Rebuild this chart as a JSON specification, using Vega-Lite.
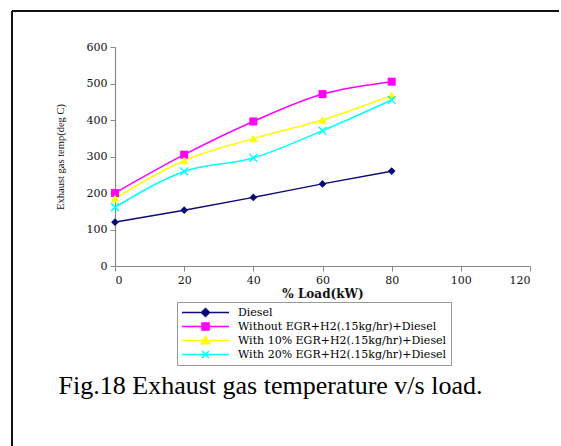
{
  "$schema": "https://vega.github.io/schema/vega-lite/v6.json",
  "width": 549,
  "height": 435,
  "autosize": {"type": "none"},
  "padding": {"left": 12, "top": 11, "right": 0, "bottom": 0},
  "background": "white",
  "title": {
    "text": "Fig.18 Exhaust gas temperature v/s load.",
    "orient": "top",
    "anchor": "middle",
    "frame": "group",
    "offset": -409,
    "baseline": "alphabetic",
    "dx": -16,
    "font": "Liberation Serif",
    "fontSize": 26,
    "fontWeight": "normal",
    "color": "#000"
  },
  "data": {
    "values": [
      {"load": 0, "temp": 120, "series": "Diesel"},
      {"load": 20, "temp": 153, "series": "Diesel"},
      {"load": 40, "temp": 188, "series": "Diesel"},
      {"load": 60, "temp": 225, "series": "Diesel"},
      {"load": 80, "temp": 260, "series": "Diesel"},
      {"load": 0, "temp": 200, "series": "Without EGR+H2(.15kg/hr)+Diesel"},
      {"load": 20, "temp": 305, "series": "Without EGR+H2(.15kg/hr)+Diesel"},
      {"load": 40, "temp": 396, "series": "Without EGR+H2(.15kg/hr)+Diesel"},
      {"load": 60, "temp": 471, "series": "Without EGR+H2(.15kg/hr)+Diesel"},
      {"load": 80, "temp": 505, "series": "Without EGR+H2(.15kg/hr)+Diesel"},
      {"load": 0, "temp": 185, "series": "With 10% EGR+H2(.15kg/hr)+Diesel"},
      {"load": 20, "temp": 289, "series": "With 10% EGR+H2(.15kg/hr)+Diesel"},
      {"load": 40, "temp": 349, "series": "With 10% EGR+H2(.15kg/hr)+Diesel"},
      {"load": 60, "temp": 400, "series": "With 10% EGR+H2(.15kg/hr)+Diesel"},
      {"load": 80, "temp": 467, "series": "With 10% EGR+H2(.15kg/hr)+Diesel"},
      {"load": 0, "temp": 161, "series": "With 20% EGR+H2(.15kg/hr)+Diesel"},
      {"load": 20, "temp": 259, "series": "With 20% EGR+H2(.15kg/hr)+Diesel"},
      {"load": 40, "temp": 296, "series": "With 20% EGR+H2(.15kg/hr)+Diesel"},
      {"load": 60, "temp": 371, "series": "With 20% EGR+H2(.15kg/hr)+Diesel"},
      {"load": 80, "temp": 455, "series": "With 20% EGR+H2(.15kg/hr)+Diesel"}
    ]
  },
  "encoding": {
    "x": {
      "field": "load",
      "type": "quantitative",
      "scale": {"domain": [0, 120], "range": [103, 518], "nice": false},
      "axis": {
        "orient": "bottom",
        "offset": -180,
        "values": [0, 20, 40, 60, 80, 100, 120],
        "title": "% Load(kW)",
        "titleFont": "DejaVu Serif",
        "titleFontSize": 12,
        "titleFontWeight": "bold",
        "titleColor": "#111",
        "titlePadding": 3
      }
    },
    "y": {
      "field": "temp",
      "type": "quantitative",
      "scale": {"domain": [0, 600], "range": [255, 36], "nice": false, "zero": false},
      "axis": {
        "orient": "left",
        "offset": -103,
        "values": [0, 100, 200, 300, 400, 500, 600],
        "title": "Exhaust gas temp(deg C)",
        "titleFont": "Liberation Serif",
        "titleFontSize": 10.5,
        "titleFontWeight": "normal",
        "titleColor": "#111",
        "titlePadding": 21
      }
    }
  },
  "layer": [
    {
      "mark": {"type": "line", "interpolate": "monotone", "strokeWidth": 1.5},
      "encoding": {
        "color": {
          "field": "series",
          "type": "nominal",
          "scale": {
            "domain": ["Diesel", "Without EGR+H2(.15kg/hr)+Diesel", "With 10% EGR+H2(.15kg/hr)+Diesel", "With 20% EGR+H2(.15kg/hr)+Diesel"],
            "range": ["#0a0a78", "#ff00ff", "#ffff00", "#00ffff"]
          },
          "legend": {
            "orient": "none", "legendX": 165, "legendY": 291, "title": null,
            "symbolSize": 2209, "clipHeight": 13, "rowPadding": 1, "padding": 4, "labelOffset": 8,
            "labelFont": "DejaVu Serif", "labelFontSize": 11, "labelColor": "#000", "labelLimit": 400,
            "strokeColor": "#999", "fillColor": "white", "symbolStrokeWidth": 1.5, "symbolOpacity": 1
          }
        }
      }
    },
    {
      "mark": {"type": "point", "filled": true, "opacity": 0, "strokeWidth": 1.5},
      "encoding": {
        "fill": {
          "field": "series",
          "type": "nominal",
          "scale": {
            "domain": ["Diesel", "Without EGR+H2(.15kg/hr)+Diesel", "With 10% EGR+H2(.15kg/hr)+Diesel", "With 20% EGR+H2(.15kg/hr)+Diesel"],
            "range": ["#0a0a78", "#ff00ff", "#ffff00", "#00ffff"]
          },
          "legend": {
            "orient": "none", "legendX": 165, "legendY": 291, "title": null,
            "symbolSize": 2209, "clipHeight": 13, "rowPadding": 1, "padding": 4, "labelOffset": 8,
            "labelFont": "DejaVu Serif", "labelFontSize": 11, "labelColor": "#000", "labelLimit": 400,
            "strokeColor": "#999", "fillColor": "white", "symbolStrokeWidth": 1.5, "symbolOpacity": 1
          }
        },
        "stroke": {
          "field": "series",
          "type": "nominal",
          "scale": {
            "domain": ["Diesel", "Without EGR+H2(.15kg/hr)+Diesel", "With 10% EGR+H2(.15kg/hr)+Diesel", "With 20% EGR+H2(.15kg/hr)+Diesel"],
            "range": ["#0a0a78", "#ff00ff", "#ffff00", "#00ffff"]
          },
          "legend": {
            "orient": "none", "legendX": 165, "legendY": 291, "title": null,
            "symbolSize": 2209, "clipHeight": 13, "rowPadding": 1, "padding": 4, "labelOffset": 8,
            "labelFont": "DejaVu Serif", "labelFontSize": 11, "labelColor": "#000", "labelLimit": 400,
            "strokeColor": "#999", "fillColor": "white", "symbolStrokeWidth": 1.5, "symbolOpacity": 1
          }
        },
        "shape": {
          "field": "series",
          "type": "nominal",
          "scale": {
            "domain": ["Diesel", "Without EGR+H2(.15kg/hr)+Diesel", "With 10% EGR+H2(.15kg/hr)+Diesel", "With 20% EGR+H2(.15kg/hr)+Diesel"],
            "range": [
              "M-1,0L1,0M0,-0.17L0.17,0L0,0.17L-0.17,0Z",
              "M-1,0L1,0M-0.15,-0.15L0.15,-0.15L0.15,0.15L-0.15,0.15Z",
              "M-1,0L1,0M0,-0.17L0.19,0.14L-0.19,0.14Z",
              "M-1,0L1,0M-0.15,-0.15L0.15,0.15M-0.15,0.15L0.15,-0.15"
            ]
          },
          "legend": {
            "orient": "none", "legendX": 165, "legendY": 291, "title": null,
            "symbolSize": 2209, "clipHeight": 13, "rowPadding": 1, "padding": 4, "labelOffset": 8,
            "labelFont": "DejaVu Serif", "labelFontSize": 11, "labelColor": "#000", "labelLimit": 400,
            "strokeColor": "#999", "fillColor": "white", "symbolStrokeWidth": 1.5, "symbolOpacity": 1
          }
        }
      }
    },
    {
      "transform": [{"filter": "datum.series === 'Diesel'"}],
      "mark": {"type": "point", "shape": "diamond", "filled": true, "size": 60, "color": "#0a0a78", "opacity": 1}
    },
    {
      "transform": [{"filter": "datum.series === 'Without EGR+H2(.15kg/hr)+Diesel'"}],
      "mark": {"type": "point", "shape": "square", "filled": true, "size": 64, "color": "#ff00ff", "opacity": 1}
    },
    {
      "transform": [{"filter": "datum.series === 'With 10% EGR+H2(.15kg/hr)+Diesel'"}],
      "mark": {"type": "point", "shape": "triangle-up", "filled": true, "size": 75, "color": "#ffff00", "opacity": 1}
    },
    {
      "transform": [{"filter": "datum.series === 'With 20% EGR+H2(.15kg/hr)+Diesel'"}],
      "mark": {"type": "point", "shape": "M-1,-1L1,1M-1,1L1,-1", "filled": false, "size": 60, "strokeWidth": 1.5, "color": "#00ffff", "opacity": 1}
    }
  ],
  "config": {
    "view": {"stroke": "#111", "strokeWidth": 2, "strokeDash": [547, 986, 435, 0]},
    "axis": {
      "grid": false,
      "domainColor": "#888",
      "domainWidth": 1.2,
      "tickColor": "#888",
      "tickSize": 5,
      "labelFont": "DejaVu Serif",
      "labelFontSize": 11,
      "labelColor": "#111",
      "labelPadding": 3
    }
  }
}
